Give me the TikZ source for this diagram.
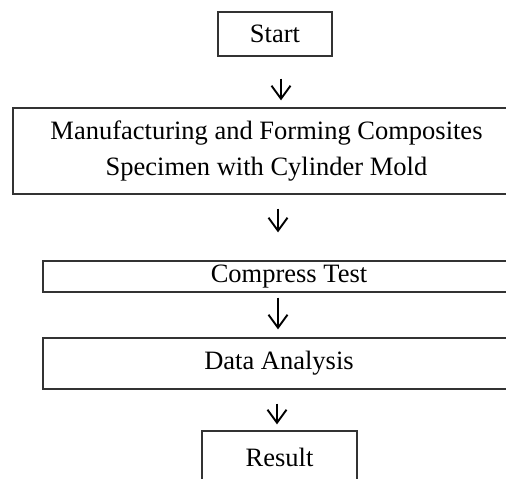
\documentclass[tikz,border=0pt]{standalone}
\usepackage{fontspec}
\setmainfont{Liberation Serif}
\usetikzlibrary{arrows.meta}
\begin{document}
\begin{tikzpicture}[x=1pt,y=1pt,
  box/.style={draw=black!80, line width=1.3pt, inner sep=0pt, align=center,
    font=\fontsize{26.5}{36.7}\selectfont},
  arr/.style={line width=1.9pt, -{Straight Barb[length=13pt,width=19pt]}}]
\useasboundingbox (0,0) rectangle (506,479);
\node[box, minimum width=114pt, minimum height=44pt] (start) at (275,445) {Start};
\node[box, minimum width=507pt, minimum height=86pt] (b2) at (266.5,328)
  {Manufacturing and Forming Composites\\Specimen with Cylinder Mold};
\node[box, minimum width=492pt, minimum height=31pt] (b3) at (289,202.5) {Compress Test};
\node[box, minimum width=472pt, minimum height=51pt] (b4) at (279,115.5) {Data Analysis};
\node[box, minimum width=155pt, minimum height=53pt] (res) at (279.5,21.5) {Result};
\draw[arr] ([xshift=6pt,yshift=-22pt]start.south) -- ([xshift=14.5pt,yshift=7pt]b2.north);
\draw[arr] ([xshift=11.5pt,yshift=-14pt]b2.south) -- ([xshift=-11pt,yshift=28pt]b3.north);
\draw[arr] ([xshift=-11pt,yshift=-5pt]b3.south) -- ([xshift=-1pt,yshift=8pt]b4.north);
\draw[arr] ([xshift=-2pt,yshift=-14pt]b4.south) -- ([xshift=-2.5pt,yshift=6pt]res.north);
\end{tikzpicture}
\end{document}
